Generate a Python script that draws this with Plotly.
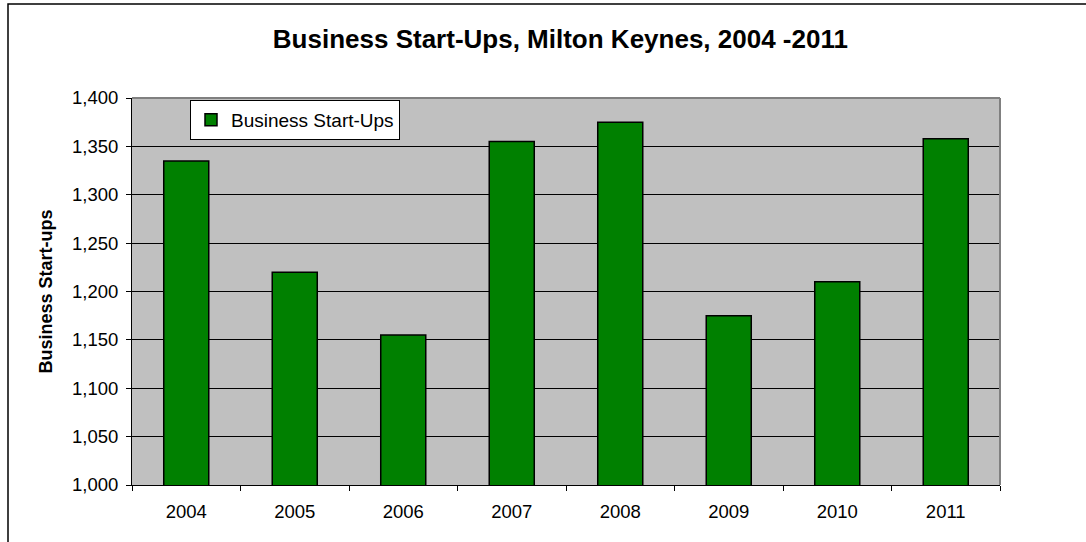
import plotly.graph_objects as go

# Annual business start-ups in Milton Keynes
years = ["2004", "2005", "2006", "2007", "2008", "2009", "2010", "2011"]
start_ups = [1335, 1220, 1155, 1355, 1375, 1175, 1210, 1358]
series_name = "Business Start-Ups"

W, H = 1086, 542
L, R, T, B = 132, 86, 98, 57
plot_w = W - L - R
plot_h = H - T - B


def px_x(x):
    """Pixel column -> paper x."""
    return (x - L) / plot_w


def px_y(y):
    """Pixel row -> paper y."""
    return (H - B - y) / plot_h


FONT = "Liberation Sans, Arial, sans-serif"

fig = go.Figure(
    go.Bar(
        x=years,
        y=start_ups,
        name=series_name,
        marker=dict(color="#008000", line=dict(color="#000000", width=1.5)),
        showlegend=True,
    )
)

fig.update_layout(
    width=W,
    height=H,
    margin=dict(l=L, r=R, t=T, b=B, pad=0),
    paper_bgcolor="white",
    plot_bgcolor="#C0C0C0",
    bargap=0.585,
    font=dict(family=FONT, size=18, color="black"),
    title=dict(
        text="<b>Business Start-Ups, Milton Keynes, 2004 -2011</b>",
        x=0.516,
        xanchor="center",
        y=1 - 39 / H,
        yanchor="middle",
        font=dict(family=FONT, size=26, color="black"),
    ),
    showlegend=True,
    legend=dict(
        x=px_x(190),
        y=px_y(100),
        xanchor="left",
        yanchor="top",
        bgcolor="white",
        bordercolor="black",
        borderwidth=1,
        font=dict(family=FONT, size=19),
        itemwidth=30,
    ),
)

fig.update_xaxes(
    type="category",
    showline=True,
    linecolor="black",
    linewidth=1,
    ticks="outside",
    tickson="boundaries",
    ticklen=5,
    tickcolor="black",
    showgrid=False,
    ticklabelstandoff=10,
    tickfont=dict(family=FONT, size=18.5),
)

fig.update_yaxes(
    range=[1000, 1400],
    dtick=50,
    tick0=1000,
    tickformat=",",
    showline=True,
    linecolor="black",
    linewidth=1,
    ticks="outside",
    ticklen=5,
    tickcolor="black",
    showgrid=True,
    gridcolor="black",
    gridwidth=1,
    zeroline=False,
    ticklabelstandoff=4,
    tickfont=dict(family=FONT, size=18.5),
)

# Vertical axis caption
fig.add_annotation(
    text="<b>Business Start-ups</b>",
    xref="paper",
    yref="paper",
    x=px_x(45),
    y=0.5,
    xanchor="center",
    yanchor="middle",
    textangle=-90,
    showarrow=False,
    font=dict(family=FONT, size=18, color="black"),
)

# Grey frame on the top and right of the plot area
fig.add_shape(type="line", xref="paper", yref="paper", x0=0, x1=1, y0=1, y1=1,
              line=dict(color="#808080", width=2), layer="above")
fig.add_shape(type="line", xref="paper", yref="paper", x0=1, x1=1, y0=0, y1=1,
              line=dict(color="#808080", width=2), layer="above")

# Outer chart border
fig.add_shape(type="rect", xref="paper", yref="paper",
              x0=px_x(8), y0=px_y(H + 20), x1=px_x(W + 20), y1=px_y(4),
              line=dict(color="black", width=1.5), layer="above")

fig.write_html("out.html")
